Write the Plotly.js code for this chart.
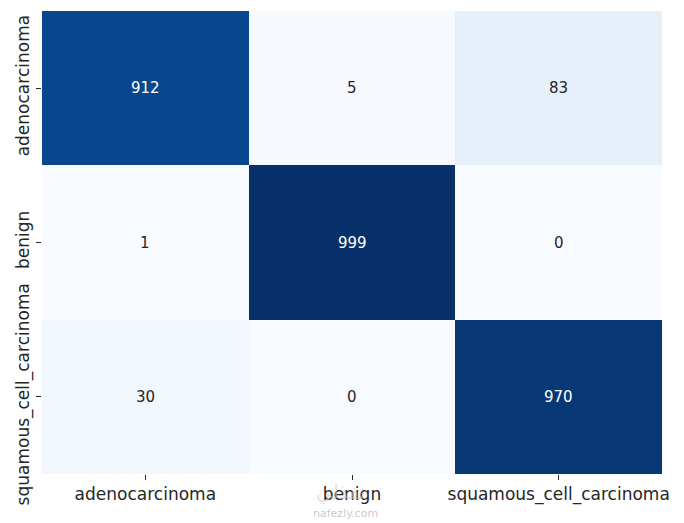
<!DOCTYPE html>
<html>
<head>
<meta charset="utf-8">
<script src="https://cdn.plot.ly/plotly-3.0.1.min.js"></script>
<style>html,body{margin:0;padding:0;background:#fff;}#chart{width:684px;height:523px;}</style>
</head>
<body>
<div id="chart"></div>
<script>
var categories = ["adenocarcinoma", "benign", "squamous_cell_carcinoma"];
var rowAdeno = [912, 5, 83];
var rowBenign = [1, 999, 0];
var rowSquamous = [30, 0, 970];
var matrix = [rowAdeno, rowBenign, rowSquamous];

var blues = [
  [0.0, "#f7fbff"], [0.125, "#deebf7"], [0.25, "#c6dbef"], [0.375, "#9ecae1"],
  [0.5, "#6baed6"], [0.625, "#4292c6"], [0.75, "#2171b5"], [0.875, "#08519c"], [1.0, "#08306b"]
];

var vmax = Math.max.apply(null, matrix.map(function(r){return Math.max.apply(null, r);}));

var annotations = [];
for (var i = 0; i < categories.length; i++) {
  for (var j = 0; j < categories.length; j++) {
    var v = matrix[i][j];
    annotations.push({
      x: categories[j], y: categories[i], xref: "x", yref: "y",
      text: String(v), showarrow: false,
      font: {family: "DejaVu Sans", size: 15, color: (v / vmax > 0.5) ? "#ffffff" : "#262626"}
    });
  }
}
annotations.push({
  xref: "paper", yref: "paper", x: 0.482, y: -0.041, xanchor: "center", yanchor: "middle",
  text: "نفذلي", showarrow: false, font: {family: "DejaVu Sans", size: 20, color: "rgba(200,200,200,0.55)"}
});
annotations.push({
  xref: "paper", yref: "paper", x: 0.49, y: -0.086, xanchor: "center", yanchor: "middle",
  text: "nafezly.com", showarrow: false, font: {family: "DejaVu Sans", size: 11, color: "rgba(175,175,175,0.7)"}
});

var trace = {
  type: "heatmap",
  x: categories,
  y: categories,
  z: matrix,
  colorscale: blues,
  zmin: 0,
  zmax: vmax,
  showscale: false,
  xgap: 0, ygap: 0,
  hoverinfo: "skip"
};

var layout = {
  width: 684, height: 523,
  margin: {l: 42, r: 22, t: 11, b: 49},
  paper_bgcolor: "#ffffff", plot_bgcolor: "#ffffff",
  font: {family: "DejaVu Sans", color: "#262626"},
  xaxis: {
    type: "category", showgrid: false, zeroline: false, showline: false,
    ticks: "outside", ticklen: 5, tickwidth: 1, tickcolor: "#262626",
    tickfont: {family: "DejaVu Sans", size: 17, color: "#262626"}
  },
  yaxis: {
    type: "category", autorange: "reversed", showgrid: false, zeroline: false, showline: false,
    ticks: "outside", ticklen: 5, tickwidth: 1, tickcolor: "#262626", tickangle: -90,
    tickfont: {family: "DejaVu Sans", size: 17, color: "#262626"}
  },
  annotations: annotations
};

Plotly.newPlot("chart", [trace], layout, {displayModeBar: false, staticPlot: true});
</script>
</body>
</html>
